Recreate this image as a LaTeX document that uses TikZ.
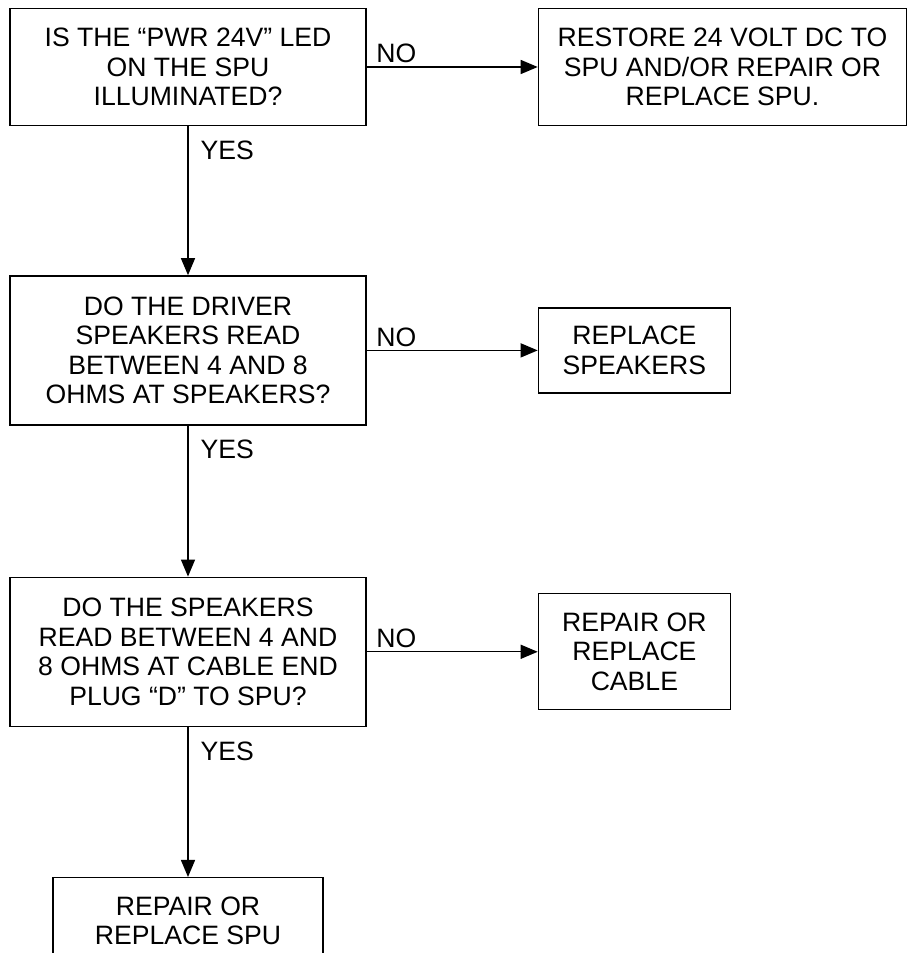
\documentclass[tikz,border=0pt]{standalone}
\usepackage{fontspec}
\setmainfont{Liberation Sans}
\usetikzlibrary{arrows.meta, positioning}

\begin{document}
\begin{tikzpicture}[>={Triangle[length=17pt,width=14pt]}, line width=1.4pt,
    node distance=150pt and 171pt,
    font=\fontsize{26.6pt}{29.5pt}\selectfont,
    every edge/.append style={->},
    question/.style={draw, align=center, minimum width=356pt, inner sep=2pt},
    action/.style={draw, align=center, inner sep=2pt},
    nolabel/.style={pos=0, anchor=base west, inner sep=0pt, xshift=9pt, yshift=4pt},
    yeslabel/.style={pos=0, anchor=north west, inner sep=0pt, xshift=12pt, yshift=-14pt}]
    \useasboundingbox (0,0) rectangle (908pt,953pt);

    \node[question, minimum height=117pt] (q1) at (188pt,886pt)
        {IS THE “PWR 24V” LED\\ON THE SPU\\ILLUMINATED?};
    \node[action, minimum width=368pt, minimum height=117pt] (a1) [right=of q1]
        {RESTORE 24 VOLT DC TO\\SPU AND/OR REPAIR OR\\REPLACE SPU.};
    \node[question, minimum height=149pt] (q2) [below=149pt of q1]
        {DO THE DRIVER\\SPEAKERS READ\\BETWEEN 4 AND 8\\OHMS AT SPEAKERS?};
    \node[action, minimum width=192pt, minimum height=85pt] (a2) [right=of q2]
        {REPLACE\\SPEAKERS};
    \node[question, minimum height=149pt] (q3) [below=151pt of q2]
        {DO THE SPEAKERS\\READ BETWEEN 4 AND\\8 OHMS AT CABLE END\\PLUG “D” TO SPU?};
    \node[action, minimum width=192pt, minimum height=116pt] (a3) [right=of q3]
        {REPAIR OR\\REPLACE\\CABLE};
    \node[action, minimum width=270pt, minimum height=86pt] (q4) [below=of q3]
        {REPAIR OR\\REPLACE SPU};

    \path
    (q1) edge node[nolabel] {NO} (a1)
    (q2) edge node[nolabel] {NO} (a2)
    (q3) edge node[nolabel] {NO} (a3)
    (q1) edge node[yeslabel] {YES} (q2)
    (q2) edge node[yeslabel] {YES} (q3)
    (q3) edge node[yeslabel] {YES} (q4);
\end{tikzpicture}
\end{document}
